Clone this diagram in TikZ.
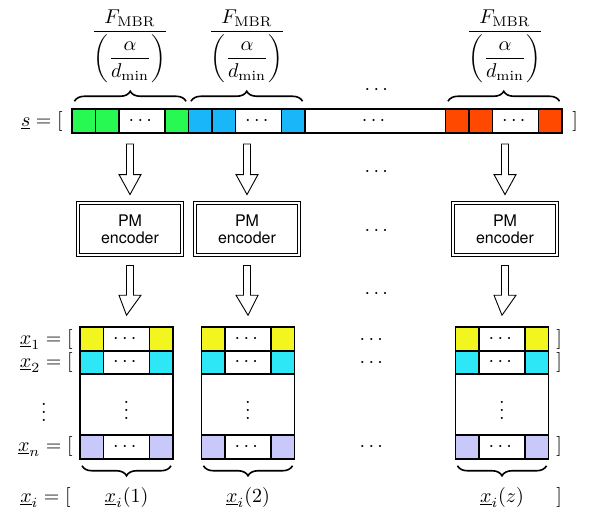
\documentclass[tikz,border=0pt]{standalone}
\usepackage{amsmath}
\usepackage{fontspec}
\setsansfont{TeX Gyre Heros}
\usetikzlibrary{
  positioning,
  calc,
  decorations.pathreplacing
}
\definecolor{CellGreen}{RGB}{40, 248, 82}
\definecolor{CellBlue}{RGB}{25, 182, 250}
\definecolor{CellRed}{RGB}{255, 72, 0}
\definecolor{CellYellow}{RGB}{242, 246, 30}
\definecolor{CellCyan}{RGB}{45, 230, 246}
\definecolor{CellLilac}{RGB}{200, 200, 250}
\tikzset{
    cell/.style={draw, line width=0.8pt, minimum width=11.75pt, minimum height=11.75pt,
        inner sep=0pt, outer sep=0pt},
    dotcell/.style={cell, fill=white, minimum width=23pt},
    encoder/.style={draw, double, double distance=1.4pt, line width=0.45pt,
        minimum width=52pt, minimum height=26pt, inner sep=0pt, align=center,
        font=\footnotesize\sffamily\linespread{0.9}\selectfont},
    blockarrow/.style={draw, line width=0.45pt, fill=white},
    topbrace/.style={decorate, decoration={brace, amplitude=5pt}, line width=0.8pt},
    botbrace/.style={decorate, decoration={brace, mirror, amplitude=5pt}, line width=0.8pt},
    lab/.style={inner sep=0pt}
}
% hollow arrow pointing down from #1 to #2
\newcommand{\blockarrow}[2]{%
    \draw[blockarrow] let \p1=(#1), \p2=(#2) in
        (\x1-1.75pt,\y1) -- (\x1-1.75pt,\y2+10pt) -- (\x1-5.5pt,\y2+10pt)
        -- (\x2,\y2) -- (\x1+5.5pt,\y2+10pt) -- (\x1+1.75pt,\y2+10pt)
        -- (\x1+1.75pt,\y1) -- cycle;}

\begin{document}
\begin{tikzpicture}[x=0.5pt, y=-0.5pt]
    \useasboundingbox (0,0) rectangle (589,521);

    % the stored vector s
    \node[lab, anchor=east] (slab) at (63,121) {$\underline{s} = [$};
    \node[cell, fill=CellGreen] (s11) at (83.75,121) {};
    \node[cell, fill=CellGreen, right=0pt of s11] (s12) {};
    \node[dotcell, right=0pt of s12] (s13) {$\cdots$};
    \node[cell, fill=CellGreen, right=0pt of s13] (s14) {};
    \node[cell, fill=CellBlue, right=0pt of s14] (s21) {};
    \node[cell, fill=CellBlue, right=0pt of s21] (s22) {};
    \node[dotcell, right=0pt of s22] (s23) {$\cdots$};
    \node[cell, fill=CellBlue, right=0pt of s23] (s24) {};
    \node[cell, minimum width=70.25pt, right=0pt of s24] (smid) {$\cdots$};
    \node[cell, fill=CellRed, right=0pt of smid] (s31) {};
    \node[cell, fill=CellRed, right=0pt of s31] (s32) {};
    \node[dotcell, right=0pt of s32] (s33) {$\cdots$};
    \node[cell, fill=CellRed, right=0pt of s33] (s34) {};
    \node[lab, anchor=west] (srb) at (572,121) {$]$};

    % dots between the columns
    \node[lab] (dtop) at (378,90) {$\cdots$};
    \node[lab] (darr1) at (378,172) {$\cdots$};
    \node[lab] (denc) at (378,231) {$\cdots$};
    \node[lab] (darr2) at (378,294) {$\cdots$};
    \node[lab] (drow1) at (373,340) {$\cdots$};
    \node[lab] (drow2) at (373,363) {$\cdots$};
    \node[lab] (drown) at (373,447) {$\cdots$};

    % row labels of the codewords
    \node[lab, anchor=east] (x1lab) at (73,339) {$\underline{x}_1 = [$};
    \node[lab, anchor=east] (x2lab) at (73,362) {$\underline{x}_2 = [$};
    \node[lab] (xdots) at (44,406) {$\vdots$};
    \node[lab, anchor=east] (xnlab) at (73,446) {$\underline{x}_n = [$};
    \node[lab, anchor=east] (xilab) at (71,497) {$\underline{x}_i = [$};
    \node[lab, anchor=west] (x1rb) at (556,339) {$]$};
    \node[lab, anchor=west] (x2rb) at (556,362) {$]$};
    \node[lab, anchor=west] (xnrb) at (556,446) {$]$};
    \node[lab, anchor=west] (xirb) at (556,497) {$]$};

    % braces over the three groups
    \draw[topbrace] ($(s11.north west)+(2.5,-8)$) -- ($(s14.north east)+(-2.5,-8)$);
    \draw[topbrace] ($(s21.north west)+(2.5,-8)$) -- ($(s24.north east)+(-2.5,-8)$);
    \draw[topbrace] ($(s31.north west)+(2.5,-8)$) -- ($(s34.north east)+(-2.5,-8)$);

    \foreach \cx/\mx/\idx [count=\i] in {130/126.5/1, 247/248/2, 505/502/z} {
        \node[lab, anchor=south] (frac\i) at (\cx,83)
            {$\dfrac{F_{\mathrm{MBR}}}{\left(\dfrac{\alpha}{d_{\min}}\right)}$};

        % encoder with its in and out arrows
        \node[encoder] (enc\i) at (\cx,229) {PM\\encoder};
        \coordinate (atop\i) at (\cx,144);
        \coordinate (atip\i) at ($(enc\i.north)+(0,-8)$);
        \blockarrow{atop\i}{atip\i}

        % codeword block
        \node[dotcell] (r1m\i) at (\mx,339) {$\cdots$};
        \node[cell, fill=CellYellow, left=0pt of r1m\i] (r1l\i) {};
        \node[cell, fill=CellYellow, right=0pt of r1m\i] (r1r\i) {};
        \node[dotcell, below=0pt of r1m\i] (r2m\i) {$\cdots$};
        \node[cell, fill=CellCyan, left=0pt of r2m\i] (r2l\i) {};
        \node[cell, fill=CellCyan, right=0pt of r2m\i] (r2r\i) {};
        \node[cell, minimum width=46.5pt, minimum height=30.5pt, below=0pt of r2m\i] (rmid\i) {$\vdots$};
        \node[dotcell, below=0pt of rmid\i] (rnm\i) {$\cdots$};
        \node[cell, fill=CellLilac, left=0pt of rnm\i] (rnl\i) {};
        \node[cell, fill=CellLilac, right=0pt of rnm\i] (rnr\i) {};

        \coordinate (btop\i) at ($(enc\i.south)+(0,10)$);
        \coordinate (btip\i) at ($(r1m\i.north)+(0,-12)$);
        \blockarrow{btop\i}{btip\i}

        \draw[botbrace] ($(rnl\i.south west)+(2,7)$) -- ($(rnr\i.south east)+(-2,7)$);
        \node[lab] (xi\i) at (\mx,497) {$\underline{x}_i(\idx)$};
    }
\end{tikzpicture}
\end{document}
